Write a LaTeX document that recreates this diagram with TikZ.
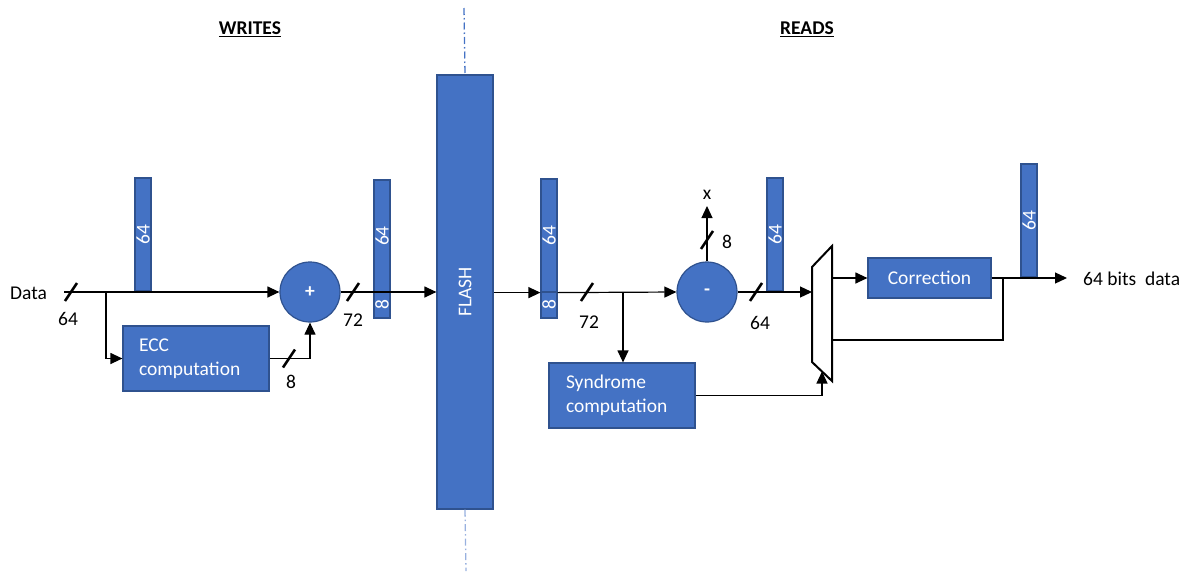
\documentclass[tikz,border=0pt]{standalone}
\usepackage{fontspec}
\setmainfont{Carlito}
\usetikzlibrary{arrows.meta,positioning,calc}
\definecolor{eccblue}{HTML}{4472C4}
\definecolor{eccedge}{HTML}{2F528F}

\begin{document}
\begin{tikzpicture}[
  x=1pt, y=-1pt,
  font=\fontsize{19.5}{23.5}\selectfont,
  blk/.style={draw=eccedge, line width=1.2pt, fill=eccblue, text=white,
              inner sep=0pt, align=left},
  bar/.style={draw=eccedge, line width=1.2pt, fill=eccblue, text=white,
              inner sep=0pt, minimum width=16},
  adder/.style={circle, draw=eccedge, line width=1.2pt, fill=eccblue,
                text=white, inner sep=0pt, minimum size=60},
  wire/.style={line width=1.2pt},
  arrow/.style={wire, -{Triangle[length=12pt,width=11pt]}},
  bw/.style={inner sep=0pt},
  title/.style={font=\fontsize{19.5}{23.5}\selectfont\bfseries, inner sep=0pt},
  sep/.style={eccblue, line width=1.3pt, dash pattern=on 7pt off 3pt on 1.5pt off 3pt},
  bus/.pic={\draw[line width=2.6pt] (-6,9) -- (6,-9);},
]
\useasboundingbox (0,0) rectangle (1190,571);

%% ---- titles and the dividing line ----
\node[title] (wr) at (250,29) {\underline{WRITES}};
\node[title] (rd) at (807,29) {\underline{READS}};

\node[blk, minimum width=56, minimum height=434] (flash) at (465,292)
  {\rotatebox{90}{FLASH}};
\coordinate (septop) at (464,8);
\coordinate (sepbot) at (466,571);
\draw[sep] (septop) -- (flash.north);
\draw[sep, eccblue!55] (flash.south) -- (sepbot);

%% ---- writes ----
\node[bw, anchor=west] (data) at (10,293) {Data};
\coordinate (din) at (64,292);
\node[bar, minimum height=113] (b1) at (143,234.5) {\rotatebox{90}{64}};
\node[adder] (add) at (310,292) {\textbf{+}};
\node[blk, minimum width=146, minimum height=65, text width=114] (ecc) at (196,358.5)
  {ECC\\computation};
\node[bar, minimum height=112] (b2t) at (382,236) {\rotatebox{90}{64}};
\node[bar, minimum height=26] (b2b) at (382,305) {\rotatebox{90}{8}};

\coordinate (br1) at (106,292);
\draw[arrow] (din) -- (add.west);
\draw[arrow] (br1) |- (ecc.west);
\draw[arrow] (ecc.east) -| (add.south);
\draw[arrow] (add.east) -- (flash.west);

\pic at (71,292) {bus};
\pic at (289,358.5) {bus};
\pic at (353,292) {bus};
\node[bw] (w1) at (68,319) {64};
\node[bw] (w2) at (291,382) {8};
\node[bw] (w3) at (353,320) {72};

%% ---- reads ----
\node[bar, minimum height=113] (b3t) at (549,235.5) {\rotatebox{90}{64}};
\node[bar, minimum height=26] (b3b) at (549,305) {\rotatebox{90}{8}};
\node[adder] (sub) at (707,292) {\textbf{-}};
\node[blk, minimum width=146, minimum height=65, text width=112] (syn) at (622,395.5)
  {Syndrome\\computation};
\node[bar, minimum height=113] (b4) at (775,234.5) {\rotatebox{90}{64}};
\node[bw] (x) at (707,195) {x};
\coordinate (xout) at (707,206);

%% multiplexer
\coordinate (mtl) at (812,267);
\coordinate (mbl) at (812,362);
\coordinate (mtr) at (832,246);
\coordinate (mbr) at (832,381);
\draw[line width=2pt, fill=white] (mtl) -- (mtr) -- (mbr) -- (mbl) -- cycle;
\coordinate (min) at (812,292);
\coordinate (msel) at (822,371.5);
\coordinate (mout) at (832,278);
\coordinate (mback) at (832,340);

\node[blk, minimum width=123, minimum height=40, align=center] (corr) at (929.5,278)
  {Correction};
\node[bar, minimum height=113] (b5) at (1029,220.5) {\rotatebox{90}{64}};
\coordinate (dout) at (1067,278);
\node[bw, anchor=west] (res) at (1083,279) {64 bits\ \ data};

\coordinate (br2) at (623,292);
\coordinate (br3) at (1003,278);
\draw[arrow] (flash.east |- b3t.south) -- (b3t.south west);
\draw[arrow] (b3t.south east) -- (sub.west);
\draw[arrow] (br2) -- (br2 |- syn.north);
\draw[arrow] (sub.north) -- (xout);
\draw[arrow] (sub.east) -- (min);
\draw[arrow] (syn.east) -| (msel);
\draw[arrow] (mout) -- (corr.west);
\draw[arrow] (corr.east) -- (dout);
\draw[wire] (br3) |- (mback);

\pic at (587,292) {bus};
\pic at (707,240) {bus};
\pic at (756,292) {bus};
\node[bw] (w4) at (589,322) {72};
\node[bw] (w5) at (727,242) {8};
\node[bw] (w6) at (760,323) {64};

\end{tikzpicture}
\end{document}
